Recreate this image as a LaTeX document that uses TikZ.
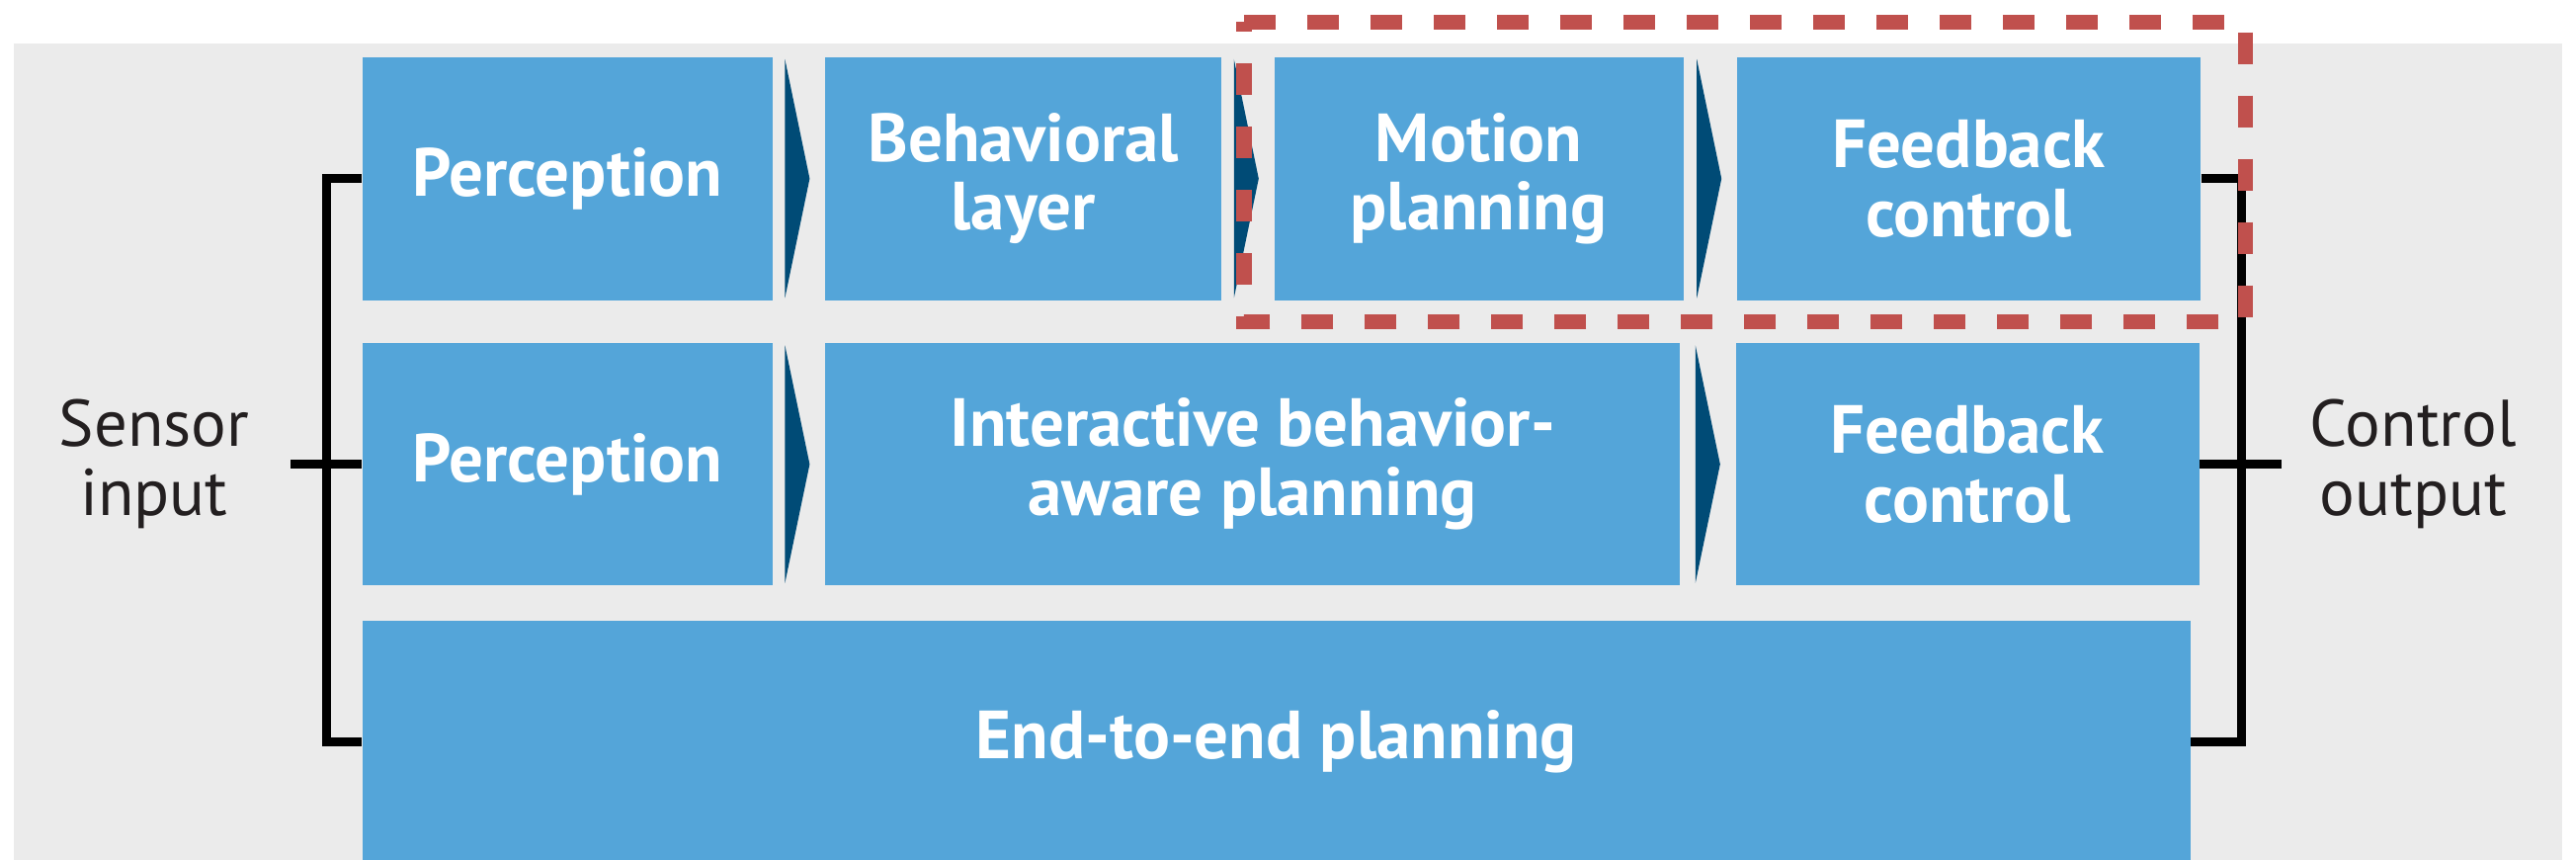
\documentclass[tikz,border=0pt]{standalone}
\usepackage{fontspec}
\setmainfont{PT Sans}
\usepackage{tikz}
\usetikzlibrary{positioning,calc}
\definecolor{block}{HTML}{54A5D9}
\definecolor{chevron}{HTML}{004B76}
\definecolor{panel}{HTML}{EBEBEB}
\definecolor{focus}{HTML}{C0504D}
\definecolor{ink}{HTML}{231F20}

\begin{document}
\begin{tikzpicture}[node distance=.52cm, every node/.style={font=\fontsize{19}{19.8}\selectfont},
    stage/.style={fill=block,text=white,font=\fontsize{19.6}{19.8}\selectfont\bfseries,inner sep=0pt,minimum height=2.46cm,align=center},
    chev/.style={fill=chevron},
    bus/.style={draw=black,line width=.09cm},
    io/.style={text=ink,inner sep=0pt,align=center}]
    \useasboundingbox (0,0) rectangle (26.07,-8.70);
    \fill[panel] (.14,-.44) rectangle (25.93,-8.70);
    \node[stage,minimum width=4.15cm,anchor=north west] (perA) at (3.66,-.57) {Perception};
    \node[stage,minimum width=4.01cm,right=of perA] (behav) {Behavioral\\layer};
    \node[stage,minimum width=4.14cm,right=of behav] (motion) {Motion\\planning};
    \node[stage,minimum width=4.69cm,right=.53cm of motion] (fbA) {Feedback\\control};
    \node[stage,minimum width=4.15cm,minimum height=2.45cm,below=.42cm of perA] (perB) {Perception};
    \node[stage,minimum width=8.65cm,minimum height=2.45cm,right=of perB] (inter) {Interactive behavior-\\aware planning};
    \node[stage,minimum width=4.69cm,minimum height=2.45cm,right=.55cm of inter] (fbB) {Feedback\\control};
    \node[stage,minimum width=18.50cm,minimum height=2.45cm,below=.34cm of perB.south west,anchor=north west] (e2e) {End-to-end planning};
    \foreach \n in {behav,motion,fbA,inter,fbB}
      \fill[chev] ($(\n.north west)+(-.40,-.03)$) -- ($(\n.west)+(-.15,0)$) -- ($(\n.south west)+(-.40,.03)$) -- cycle;
    \coordinate (sin) at ($(perB.west)+(-.72,0)$);
    \coordinate (cout) at ($(fbB.east)+(.83,0)$);
    \draw[bus] (perA.west) -- ++(-.36,0) |- (e2e.west);
    \draw[bus] (sin) -- (perB.west);
    \draw[bus] (fbA.east) -- ++(.405,0) |- (e2e.east);
    \draw[bus] (fbB.east) -- (cout);
    \node[io,left=.41cm of sin] (sensor) {Sensor\\input};
    \node[io,right=.28cm of cout] (control) {Control\\output};
    \coordinate (fTL) at ($(motion.north west)+(-.30,.345)$);
    \coordinate (fBR) at ($(fbA.south east)+(.45,-.21)$);
    \draw[focus,line width=.155cm,dash pattern=on .32cm off .32cm] (fTL) -| (fBR) -| (fTL) -- cycle;
\end{tikzpicture}
\end{document}
